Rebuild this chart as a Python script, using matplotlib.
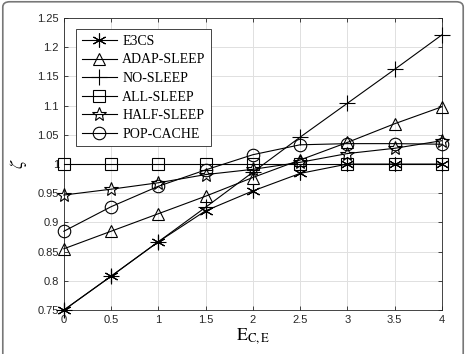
import numpy as np
import matplotlib.pyplot as plt
from matplotlib.patches import FancyBboxPatch

plt.rcParams['mathtext.fontset'] = 'stix'

x = [0, 0.5, 1, 1.5, 2, 2.5, 3, 3.5, 4]
e3cs = [0.75, 0.808, 0.867, 0.92, 0.954, 0.984, 1.0, 1.0, 1.0]
adap_sleep = [0.855, 0.885, 0.915, 0.945, 0.977, 1.007, 1.037, 1.069, 1.098]
no_sleep = [0.75, 0.808, 0.867, 0.926, 0.986, 1.046, 1.104, 1.162, 1.221]
all_sleep = [1.0, 1.0, 1.0, 1.0, 1.0, 1.0, 1.0, 1.0, 1.0]
half_sleep = [0.947, 0.957, 0.968, 0.982, 0.991, 1.003, 1.018, 1.027, 1.040]
pop_cache = [0.885, 0.927, 0.962, 0.990, 1.016, 1.033, 1.035, 1.035, 1.034]

series = [
    ("E3CS", e3cs, (6, 2, 0), 10),
    ("ADAP-SLEEP", adap_sleep, '^', 9),
    ("NO-SLEEP", no_sleep, '+', 11),
    ("ALL-SLEEP", all_sleep, 's', 8),
    ("HALF-SLEEP", half_sleep, '*', 10),
    ("POP-CACHE", pop_cache, 'o', 9),
]

fig = plt.figure(figsize=(4.66, 3.54), dpi=100)
ax = fig.add_axes([0.137, 0.124, 0.811, 0.825])

for name, vals, mk, ms in series:
    ax.plot(x, vals, color='black', lw=0.8, marker=mk, markersize=ms,
            markerfacecolor='none', markeredgecolor='black', markeredgewidth=0.8,
            label=name, clip_on=False, zorder=3)

ax.set_xlim(0, 4)
ax.set_ylim(0.75, 1.25)
ax.set_xticks(np.arange(0, 4.01, 0.5))
ax.set_yticks(np.arange(0.75, 1.251, 0.05))
ax.set_xticklabels(['0', '0.5', '1', '1.5', '2', '2.5', '3', '3.5', '4'])
ax.set_yticklabels(['0.75', '0.8', '0.85', '0.9', '0.95', '1', '1.05', '1.1', '1.15', '1.2', '1.25'])
ax.grid(True, color='#e0e0e0', lw=0.7)
ax.set_axisbelow(True)
ax.tick_params(direction='in', top=True, right=True, labelsize=8,
               colors='#262626', length=3, width=0.6)
for tl in ax.get_xticklabels() + ax.get_yticklabels():
    tl.set_fontfamily('Liberation Sans')
for s in ax.spines.values():
    s.set_color('#262626')
    s.set_linewidth(0.6)

ax.set_xlabel(r'$\mathrm{E}_{\mathrm{C,E}}$', fontsize=13, labelpad=1)
ax.set_ylabel(r'$\zeta$', fontsize=13, labelpad=6)

leg = ax.legend(loc='upper left', bbox_to_anchor=(0.015, 0.985), fancybox=False,
                edgecolor='#262626', framealpha=1, prop={'family': 'Liberation Serif', 'size': 10},
                handlelength=2.5, labelspacing=0.4, borderpad=0.4, handletextpad=0.4)
leg.get_frame().set_linewidth(0.6)
leg.set_zorder(5)

frame = FancyBboxPatch((0.006, -0.05), 0.988, 1.045, boxstyle='round,pad=0,rounding_size=0.015',
                       transform=fig.transFigure, facecolor='none', edgecolor='#777777',
                       lw=1.2, clip_on=False)
fig.patches.append(frame)

fig.savefig('out.png', dpi=100)
